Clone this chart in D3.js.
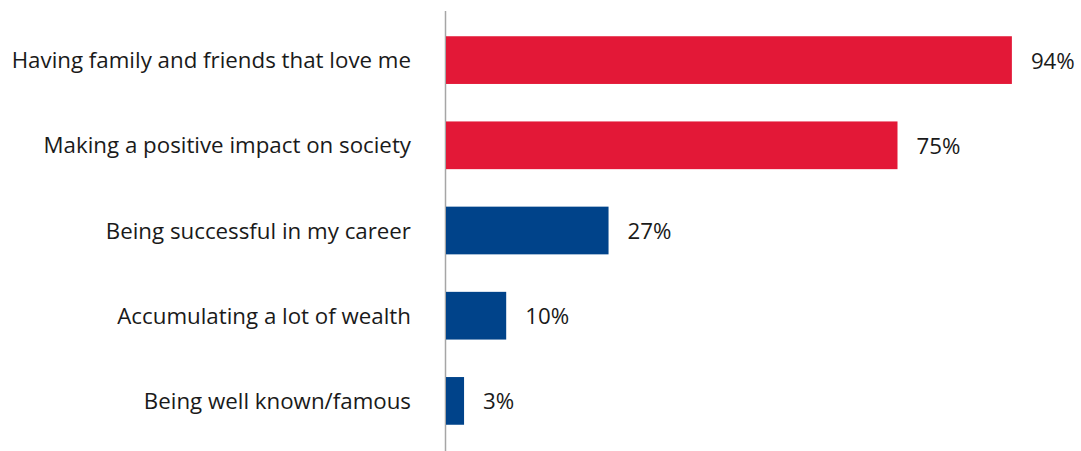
<!DOCTYPE html>
<html><head><meta charset="utf-8">
<script src="https://cdn.jsdelivr.net/npm/d3@7"></script>
<style>body{margin:0;background:#fff}svg{display:block}</style>
</head><body>
<svg id="c" width="1081" height="451"></svg>
<script>
const categories = ["Having family and friends that love me","Making a positive impact on society","Being successful in my career","Accumulating a lot of wealth","Being well known/famous"];
const values = [94, 75, 27, 10, 3];
const colors = ["#E31837","#E31837","#00438A","#00438A","#00438A"];

const svg = d3.select("#c");
const x = d3.scaleLinear().domain([0,100]).range([446,1048]);
const y = d3.scaleBand().domain(categories).range([17.5,443.5]).paddingInner(0.44).paddingOuter(0.22);
const font = "'Open Sans', sans-serif";

svg.append("line").attr("x1",445.5).attr("x2",445.5).attr("y1",11).attr("y2",451)
  .attr("stroke","#a6a6a6").attr("stroke-width",1.5);

svg.selectAll("rect.bar").data(values).join("rect").attr("class","bar")
  .attr("x",x(0)).attr("y",(d,i)=>y(categories[i]))
  .attr("width",d=>x(d)-x(0)).attr("height",y.bandwidth())
  .attr("fill",(d,i)=>colors[i]);

svg.selectAll("text.cat").data(categories).join("text").attr("class","cat")
  .attr("x",411).attr("y",d=>y(d)+y.bandwidth()/2+8)
  .attr("text-anchor","end").attr("font-family",font).attr("font-size",22.3)
  .attr("fill","#1a1a1a").text(d=>d);

svg.selectAll("text.val").data(values).join("text").attr("class","val")
  .attr("x",d=>x(d)+19).attr("y",(d,i)=>y(categories[i])+y.bandwidth()/2+8.5)
  .attr("font-family",font).attr("font-size",22.3)
  .attr("fill","#1a1a1a").text(d=>d+"%");
</script>
</body></html>
